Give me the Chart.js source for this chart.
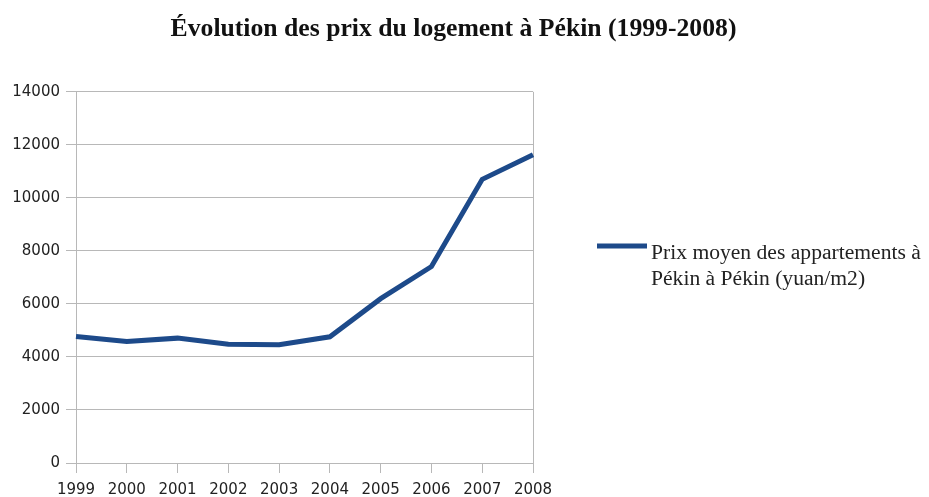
<!DOCTYPE html>
<html lang="fr">
<head>
<meta charset="utf-8">
<title>Évolution des prix du logement à Pékin</title>
<script src="https://cdn.jsdelivr.net/npm/chart.js@4/dist/chart.umd.min.js"></script>
<style>
  html, body { margin: 0; padding: 0; background: #fff; }
  #wrap { width: 929px; height: 497px; }
</style>
</head>
<body>
<div id="wrap"><canvas id="prixChart"></canvas></div>
<script>
// Données
const years = ["1999", "2000", "2001", "2002", "2003", "2004", "2005", "2006", "2007", "2008"]
const prices = [4770, 4580, 4710, 4480, 4460, 4760, 6200, 7410, 10700, 11630]
const yTicks = [0, 2000, 4000, 6000, 8000, 10000, 12000, 14000]
const titleText = "Évolution des prix du logement à Pékin (1999-2008)"
const legendLines = ["Prix moyen des appartements à", "Pékin à Pékin (yuan/m2)"]

const lineColor = "#1d4a8a"
const gridColor = "#b8b8b8"
const textColor = "#222"

// Légende à droite, sur deux lignes
const sideLegend = {
  id: "sideLegend",
  afterDraw(chart) {
    const ctx = chart.ctx
    const x = chart.chartArea.right + 64
    const y = 246
    ctx.save()
    ctx.strokeStyle = lineColor
    ctx.lineWidth = 5
    ctx.beginPath()
    ctx.moveTo(x, y)
    ctx.lineTo(x + 50, y)
    ctx.stroke()
    ctx.fillStyle = textColor
    ctx.font = "21.6px 'Liberation Serif', serif"
    ctx.textBaseline = "alphabetic"
    legendLines.forEach((line, i) => {
      ctx.fillText(line, x + 54, 259 + i * 26)
    })
    ctx.restore()
  },
}

new Chart(document.getElementById("prixChart"), {
  type: "line",
  data: {
    labels: years,
    datasets: [
      {
        label: legendLines.join(" "),
        data: prices,
        borderColor: lineColor,
        borderWidth: 5,
        pointRadius: 0,
        tension: 0,
        fill: false,
      },
    ],
  },
  options: {
    responsive: true,
    maintainAspectRatio: false,
    animation: false,
    layout: {
      padding: { left: 0, right: 22, top: 0, bottom: 0 },
    },
    plugins: {
      legend: { display: false },
      tooltip: { enabled: false },
      title: {
        display: true,
        text: titleText,
        color: "#111",
        font: { family: "'Liberation Serif', serif", size: 25.7, weight: "bold" },
        padding: { top: 14, bottom: 47 },
      },
    },
    scales: {
      x: {
        type: "category",
        offset: false,
        grid: {
          color: (c) => (c.index === 0 || c.index === years.length - 1 ? gridColor : "transparent"),
          tickColor: gridColor,
          tickLength: 10,
        },
        border: { display: false },
        ticks: {
          color: textColor,
          font: { family: "'DejaVu Sans', sans-serif", size: 15 },
          padding: 8,
          maxRotation: 0,
          autoSkip: false,
        },
        afterFit: (scale) => {
          scale.height = 34
        },
      },
      y: {
        min: 0,
        max: 14000,
        afterBuildTicks: (scale) => {
          scale.ticks = yTicks.map((v) => ({ value: v }))
        },
        grid: {
          color: gridColor,
          tickColor: gridColor,
          tickLength: 10,
        },
        border: { color: gridColor },
        ticks: {
          color: textColor,
          font: { family: "'DejaVu Sans', sans-serif", size: 15 },
          padding: 6,
          callback: (value) => String(value),
        },
        afterFit: (scale) => {
          scale.width = 76
        },
      },
      // espace réservé à droite pour la légende
      right: {
        position: "right",
        min: 0,
        max: 14000,
        grid: { display: false },
        border: { display: false },
        ticks: { display: false },
        afterFit: (scale) => {
          scale.width = 374
        },
      },
    },
  },
  plugins: [sideLegend],
})
</script>
</body>
</html>
